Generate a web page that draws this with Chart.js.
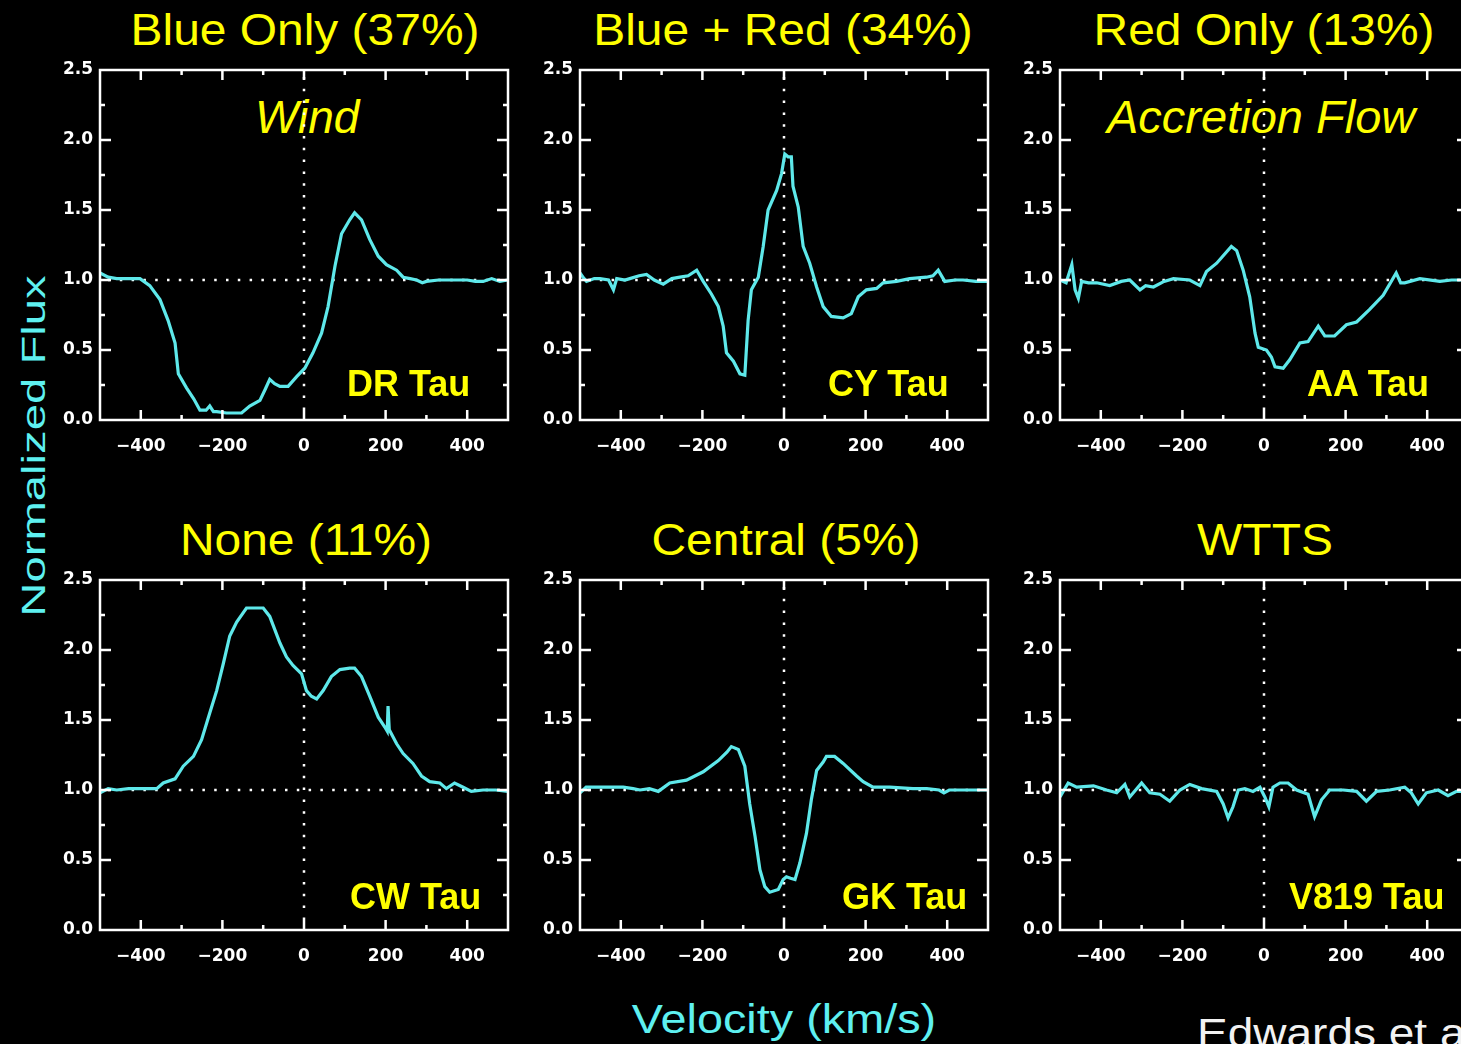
<!DOCTYPE html>
<html>
<head>
<meta charset="utf-8">
<script src="https://cdn.jsdelivr.net/npm/chart.js@4/dist/chart.umd.min.js"></script>
<style>
  html, body { margin: 0; padding: 0; background: #000; width: 1461px; height: 1044px; overflow: hidden; }
  .panel { position: absolute; }
  .txt { position: absolute; white-space: nowrap; line-height: 1; font-family: "Liberation Sans", Arial, sans-serif; }
  .title { color: #ffff00; font-size: 45px; transform: translateX(-50%) scaleX(1.065); }
  .label { color: #ffff00; font-size: 36px; font-weight: bold; }
  .flow { color: #ffff00; font-style: italic; }
  .axis { color: #5ef0f0; }
</style>
</head>
<body>

<div class="txt title" style="left:305px; top:7px;">Blue Only (37%)</div>
<div class="txt title" style="left:783px; top:7px;">Blue + Red (34%)</div>
<div class="txt title" style="left:1264px; top:7px;">Red Only (13%)</div>
<div class="txt title" style="left:306px; top:517px;">None (11%)</div>
<div class="txt title" style="left:786px; top:517px;">Central (5%)</div>
<div class="txt title" style="left:1265px; top:517px;">WTTS</div>

<div class="txt flow" style="left:255px; top:94px; font-size:46px;">Wind</div>
<div class="txt flow" style="left:1107px; top:93px; font-size:47px;">Accretion Flow</div>

<div class="txt axis" style="left:33px; top:446px; font-size:34px; transform: translate(-50%, -50%) rotate(-90deg) scaleX(1.39);">Normalized Flux</div>
<div class="txt axis" style="left:784px; top:999px; font-size:40px; transform: translateX(-50%) scaleX(1.17);">Velocity (km/s)</div>
<div class="txt" style="left:1197px; top:1013px; font-size:40px; color:#f2f2f2; transform-origin: left center; transform: scaleX(1.15);">Edwards et al.</div>

<script>
// Velocity grid (km/s) and normalized flux for each star
const drTauVel  = [-500,-480,-459,-430,-402,-378,-353,-333,-316,-308,-288,-270,-255,-240,-231,-222,-214,-190,-170,-153,-133,-108,-95,-84,-72,-59,-39,-18,2,22,43,59,76,92,112,124,141,161,182,202,227,243,260,276,290,300,330,357,400,420,439,460,480,500];
const drTauFlux = [1.05,1.02,1.01,1.01,1.01,0.96,0.86,0.71,0.55,0.33,0.23,0.15,0.07,0.07,0.10,0.06,0.06,0.05,0.05,0.05,0.10,0.14,0.22,0.29,0.26,0.24,0.24,0.31,0.37,0.48,0.62,0.81,1.10,1.33,1.43,1.48,1.43,1.29,1.17,1.11,1.07,1.02,1.01,1.00,0.98,0.99,1.00,1.00,1.00,0.99,0.99,1.01,0.99,1.00];

const cyTauVel  = [-500,-490,-484,-465,-451,-430,-418,-410,-390,-378,-355,-337,-318,-296,-275,-255,-235,-214,-198,-178,-161,-149,-141,-124,-108,-96,-88,-80,-63,-51,-39,-18,-6,2,10,18,22,35,47,63,80,96,116,145,165,182,202,227,243,276,308,349,365,378,394,420,439,470,500];
const cyTauFlux = [1.05,1.01,0.99,1.01,1.01,1.00,0.93,1.01,1.00,1.01,1.03,1.04,1.00,0.97,1.01,1.02,1.03,1.07,0.99,0.90,0.81,0.67,0.48,0.42,0.33,0.32,0.71,0.93,1.02,1.24,1.50,1.64,1.76,1.90,1.88,1.88,1.67,1.52,1.24,1.12,0.95,0.81,0.74,0.73,0.76,0.88,0.93,0.94,0.98,0.99,1.01,1.02,1.03,1.07,0.99,1.00,1.00,0.99,0.99];

const aaTauVel  = [-500,-485,-471,-463,-455,-447,-430,-410,-378,-350,-329,-304,-290,-271,-245,-222,-182,-157,-141,-116,-80,-67,-51,-35,-22,-14,6,18,27,47,63,88,108,133,149,173,202,227,259,292,324,335,345,382,431,460,482,500];
const aaTauFlux = [1.00,0.98,1.11,0.93,0.87,0.99,0.98,0.98,0.96,0.99,1.00,0.93,0.96,0.95,0.99,1.01,1.00,0.96,1.06,1.12,1.24,1.21,1.07,0.88,0.62,0.52,0.50,0.45,0.38,0.37,0.43,0.55,0.56,0.67,0.60,0.60,0.68,0.70,0.79,0.89,1.05,0.98,0.98,1.01,0.99,1.00,1.00,1.00];

const cwTauVel  = [-500,-480,-459,-430,-410,-380,-361,-345,-316,-296,-271,-251,-231,-214,-198,-182,-165,-141,-100,-84,-59,-43,-27,-6,6,18,31,47,67,88,112,124,141,161,182,198,204,206,209,227,243,267,288,308,333,349,369,390,410,439,470,500];
const cwTauFlux = [0.98,1.01,1.00,1.01,1.01,1.01,1.01,1.05,1.08,1.17,1.24,1.36,1.55,1.71,1.90,2.10,2.20,2.30,2.30,2.24,2.05,1.95,1.89,1.83,1.71,1.67,1.65,1.71,1.81,1.86,1.87,1.87,1.81,1.67,1.52,1.45,1.42,1.60,1.43,1.33,1.26,1.19,1.10,1.06,1.05,1.01,1.05,1.02,0.99,1.00,1.00,0.99];

const gkTauVel  = [-500,-485,-471,-430,-394,-370,-353,-330,-308,-280,-239,-198,-161,-140,-129,-112,-96,-84,-71,-59,-47,-35,-14,-2,6,16,27,39,55,67,80,96,104,124,145,178,194,218,259,316,350,380,392,405,439,470,500];
const gkTauFlux = [0.98,1.02,1.02,1.02,1.02,1.01,1.00,1.01,0.99,1.05,1.07,1.13,1.21,1.27,1.31,1.29,1.17,0.90,0.67,0.43,0.31,0.27,0.29,0.36,0.38,0.37,0.36,0.48,0.69,0.93,1.14,1.20,1.24,1.24,1.19,1.10,1.06,1.02,1.02,1.01,1.01,1.00,0.98,1.00,1.00,1.00,1.00];

const v819TauVel  = [-500,-480,-459,-418,-386,-361,-341,-329,-300,-280,-255,-231,-206,-182,-153,-116,-100,-88,-76,-63,-47,-27,-10,2,12,22,39,59,80,108,124,141,161,194,227,251,276,308,345,361,378,398,427,451,472,500];
const v819TauFlux = [0.95,1.05,1.02,1.03,1.00,0.98,1.04,0.95,1.05,0.98,0.97,0.92,1.00,1.04,1.01,0.99,0.90,0.80,0.88,1.00,1.01,0.99,1.02,0.95,0.88,1.02,1.05,1.05,1.00,0.97,0.81,0.93,1.00,1.00,0.99,0.92,0.99,1.00,1.02,0.98,0.90,0.98,1.00,0.96,0.99,0.99];

// Axis ticks
const xTickValues  = [-400, -200, 0, 200, 400];
const xMinorTicks  = [-400, -300, -200, -100, 0, 100, 200, 300, 400];
const yTickValues  = [0, 0.5, 1.0, 1.5, 2.0, 2.5];
const yMinorTicks  = [0.25, 0.5, 0.75, 1.0, 1.25, 1.5, 1.75, 2.0, 2.25];

const starNames = ['DR Tau', 'CY Tau', 'AA Tau', 'CW Tau', 'GK Tau', 'V819 Tau'];

// Panel layout: top-left corner of each plot box
const panels = [
  { vel: drTauVel,   flux: drTauFlux,   left: 100,  top: 70,  lx: 347,  ly: 366 },
  { vel: cyTauVel,   flux: cyTauFlux,   left: 580,  top: 70,  lx: 828,  ly: 366 },
  { vel: aaTauVel,   flux: aaTauFlux,   left: 1060, top: 70,  lx: 1307, ly: 366 },
  { vel: cwTauVel,   flux: cwTauFlux,   left: 100,  top: 580, lx: 350,  ly: 879 },
  { vel: gkTauVel,   flux: gkTauFlux,   left: 580,  top: 580, lx: 842,  ly: 879 },
  { vel: v819TauVel, flux: v819TauFlux, left: 1060, top: 580, lx: 1289, ly: 879 }
];

const BOX_W = 408, BOX_H = 350;
const PAD_L = 50, PAD_T = 10, PAD_R = 10, PAD_B = 45;
const LINE_COLOR = '#5ee8ea';

// IDL-style frame: box, inward ticks on all sides, dotted reference lines
const framePlugin = {
  id: 'idlFrame',
  beforeDatasetsDraw(chart) {
    const { ctx, chartArea: a, scales: { x, y } } = chart;
    ctx.save();
    ctx.strokeStyle = '#ffffff';
    ctx.lineWidth = 2.5;
    ctx.setLineDash([2.5, 9.3]);
    ctx.beginPath();
    const y1 = y.getPixelForValue(1);
    ctx.moveTo(a.left + 8, y1);
    ctx.lineTo(a.right, y1);
    const x0 = x.getPixelForValue(0);
    ctx.moveTo(x0, y.getPixelForValue(2.45));
    ctx.lineTo(x0, a.bottom);
    ctx.stroke();
    ctx.restore();
  },
  afterDatasetsDraw(chart) {
    const { ctx, chartArea: a, scales: { x, y } } = chart;
    ctx.save();
    ctx.strokeStyle = '#ffffff';
    ctx.lineWidth = 2.5;
    ctx.setLineDash([]);
    ctx.beginPath();
    xMinorTicks.forEach(v => {
      const px = x.getPixelForValue(v);
      const len = xTickValues.includes(v) ? 10 : 5;
      ctx.moveTo(px, a.bottom); ctx.lineTo(px, a.bottom - len);
      ctx.moveTo(px, a.top);    ctx.lineTo(px, a.top + len);
    });
    yMinorTicks.forEach(v => {
      const py = y.getPixelForValue(v);
      const len = yTickValues.includes(v) ? 11 : 5;
      ctx.moveTo(a.left, py);  ctx.lineTo(a.left + len, py);
      ctx.moveTo(a.right, py); ctx.lineTo(a.right - len, py);
    });
    ctx.stroke();
    ctx.strokeRect(a.left, a.top, a.right - a.left, a.bottom - a.top);
    ctx.restore();
  }
};

const tickFont = { family: '"DejaVu Sans", sans-serif', size: 17, weight: 'bold' };

panels.forEach((p, i) => {
  const wrap = document.createElement('div');
  wrap.className = 'panel';
  const w = PAD_L + BOX_W + PAD_R, h = PAD_T + BOX_H + PAD_B;
  wrap.style.left = (p.left - PAD_L) + 'px';
  wrap.style.top = (p.top - PAD_T) + 'px';
  wrap.style.width = w + 'px';
  wrap.style.height = h + 'px';
  const canvas = document.createElement('canvas');
  canvas.width = w; canvas.height = h;
  wrap.appendChild(canvas);
  document.body.appendChild(wrap);

  new Chart(canvas, {
    type: 'line',
    data: {
      datasets: [{
        label: starNames[i],
        data: p.vel.map((v, k) => ({ x: v, y: p.flux[k] })),
        borderColor: LINE_COLOR,
        borderWidth: 3.2,
        pointRadius: 0,
        tension: 0,
        fill: false
      }]
    },
    options: {
      responsive: false,
      animation: false,
      devicePixelRatio: 1,
      layout: { padding: { top: PAD_T, right: PAD_R, left: 0, bottom: 0 } },
      plugins: { legend: { display: false }, tooltip: { enabled: false }, title: { display: false } },
      scales: {
        x: {
          type: 'linear', min: -500, max: 500,
          grid: { display: false, drawTicks: false },
          border: { display: false },
          afterBuildTicks: s => { s.ticks = xTickValues.map(v => ({ value: v })); },
          afterFit: s => { s.height = PAD_B; s.paddingLeft = 0; s.paddingRight = 0; },
          ticks: {
            color: '#ffffff', font: tickFont, padding: 16, maxRotation: 0, autoSkip: false,
            callback: v => (v < 0 ? '\u2212' + Math.abs(v) : String(v))
          }
        },
        y: {
          type: 'linear', min: 0, max: 2.5,
          grid: { display: false, drawTicks: false },
          border: { display: false },
          afterBuildTicks: s => { s.ticks = yTickValues.map(v => ({ value: v })); },
          afterFit: s => { s.width = PAD_L; s.paddingTop = 0; s.paddingBottom = 0; },
          ticks: {
            color: '#ffffff', font: tickFont, padding: 7, autoSkip: false,
            callback: v => Number(v).toFixed(1)
          }
        }
      }
    },
    plugins: [framePlugin]
  });

  const lab = document.createElement('div');
  lab.className = 'txt label';
  lab.style.left = p.lx + 'px';
  lab.style.top = p.ly + 'px';
  lab.textContent = starNames[i];
  document.body.appendChild(lab);
});
</script>
</body>
</html>
